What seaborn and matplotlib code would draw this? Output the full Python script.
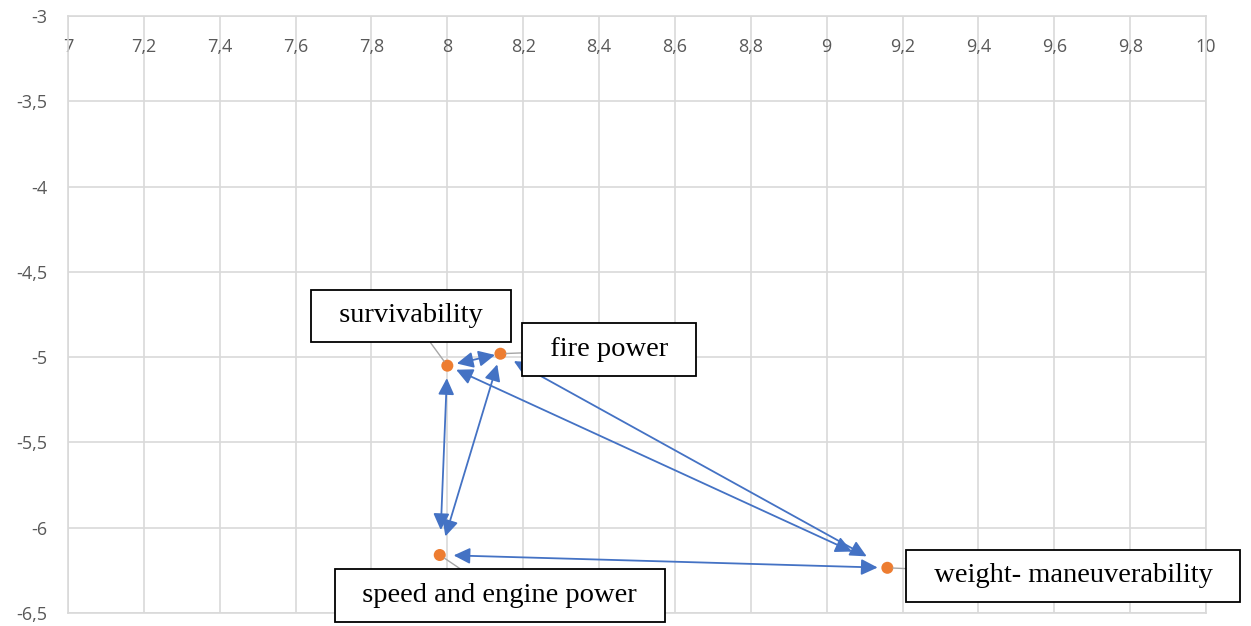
import matplotlib
matplotlib.use("Agg")
import matplotlib.pyplot as plt
from matplotlib.ticker import FuncFormatter
import seaborn as sns
import pandas as pd

# Criteria positions
criteria = ["survivability", "fire power", "speed and engine power", "weight- maneuverability"]
x_vals = [8.00, 8.14, 7.98, 9.16]
y_vals = [-5.05, -4.98, -6.16, -6.235]

# Label box centres (data units)
label_x = [7.904, 8.426, 8.138, 9.650]
label_y = [-4.758, -4.955, -6.397, -6.283]

# Two-way relations between criteria (index pairs)
links = [(0, 1), (0, 2), (1, 2), (0, 3), (1, 3), (2, 3)]
# Gap (points) left between each arrow tip and its criterion marker
link_gaps = [(7, 4), (9, 18), (8, 14), (7, 28), (11, 17), (10, 7)]

x_ticks = [7.0, 7.2, 7.4, 7.6, 7.8, 8.0, 8.2, 8.4, 8.6, 8.8, 9.0, 9.2, 9.4, 9.6, 9.8, 10.0]
y_ticks = [-3.0, -3.5, -4.0, -4.5, -5.0, -5.5, -6.0, -6.5]

df = pd.DataFrame({"criterion": criteria, "x": x_vals, "y": y_vals})

sns.set_theme(style="white")
plt.rcParams["font.family"] = ["Open Sans", "DejaVu Sans"]

fig = plt.figure(figsize=(12.51, 6.26), dpi=100)
ax = fig.add_axes([68 / 1251, 13 / 626, 1138 / 1251, 597 / 626])

grid_col = "#d9d9d9"
ax.set_xlim(7, 10)
ax.set_ylim(-6.5, -3)
ax.set_xticks(x_ticks)
ax.set_yticks(y_ticks)
ax.grid(True, color=grid_col, linewidth=1.2)
ax.set_axisbelow(True)
for sp in ax.spines.values():
    sp.set_color(grid_col)
    sp.set_linewidth(1.2)


def comma(v, pos):
    return f"{v:g}".replace(".", ",")


ax.xaxis.set_major_formatter(FuncFormatter(comma))
ax.yaxis.set_major_formatter(FuncFormatter(comma))
ax.xaxis.tick_top()
ax.tick_params(axis="x", length=0, pad=-29, labelsize=13, labelcolor="#595959")
ax.tick_params(axis="y", length=0, pad=15, labelsize=13, labelcolor="#595959")

# Relation arrows
for (a, b), (ga, gb) in zip(links, link_gaps):
    ax.annotate("", xy=(x_vals[b], y_vals[b]), xytext=(x_vals[a], y_vals[a]),
                arrowprops=dict(arrowstyle="<|-|>,head_length=0.45,head_width=0.22",
                                color="#4472C4", lw=1.3,
                                mutation_scale=22, shrinkA=ga, shrinkB=gb),
                zorder=2)

sns.scatterplot(data=df, x="x", y="y", ax=ax, color="#ED7D31", s=75,
                edgecolor="none", zorder=4, legend=False)
ax.set_xlabel("")
ax.set_ylabel("")

# Boxed labels with leader lines
for name, px, py, lx, ly in zip(criteria, x_vals, y_vals, label_x, label_y):
    ax.annotate("  " + name + "  ", xy=(px, py), xytext=(lx, ly),
                ha="center", va="center", fontsize=20.5,
                family=["Liberation Serif", "DejaVu Serif"], color="black",
                bbox=dict(boxstyle="square,pad=0.48", fc="white", ec="black", lw=1.3),
                arrowprops=dict(arrowstyle="-", color="#a6a6a6", lw=1.0,
                                shrinkA=0, shrinkB=4),
                annotation_clip=False, zorder=5)

fig.savefig("out.png", dpi=100)
